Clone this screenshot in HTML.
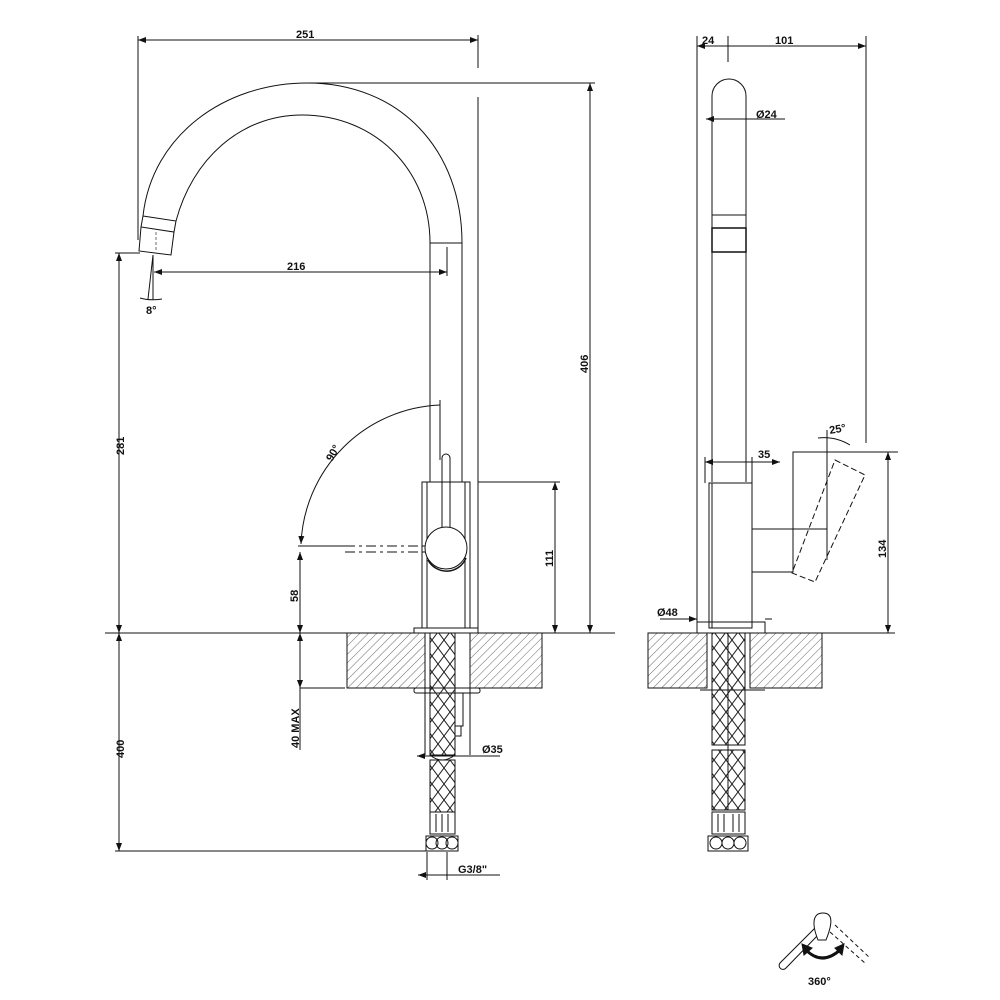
<!DOCTYPE html>
<html><head><meta charset="utf-8"><style>
html,body{margin:0;padding:0;background:#fff;}
svg{display:block}
text{font-family:"Liberation Sans",sans-serif;font-size:11px;font-weight:bold;fill:#111}
</style></head><body>
<svg width="1000" height="1000" viewBox="0 0 1000 1000" xmlns="http://www.w3.org/2000/svg">
<defs>
<pattern id="h" width="6" height="6" patternUnits="userSpaceOnUse" patternTransform="rotate(45)">
<line x1="0" y1="0" x2="0" y2="6" stroke="#555" stroke-width="0.9"/></pattern>
<pattern id="b" width="12" height="16" patternUnits="userSpaceOnUse">
<path d="M0 0 L12 16 M12 0 L0 16 M6 -8 L18 8 M-6 8 L6 24 M6 -8 L-6 8 M18 8 L6 24" stroke="#222" stroke-width="1" fill="none"/></pattern>
<marker id="a" markerWidth="8" markerHeight="6" refX="8" refY="3" orient="auto-start-reverse" markerUnits="userSpaceOnUse"><path d="M0 0 L8 3 L0 6 z" fill="#111"/></marker>
</defs>
<g stroke="#111" stroke-width="1" fill="none">
<line x1="138" y1="40" x2="478" y2="40" marker-start="url(#a)" marker-end="url(#a)"/>
<line x1="138" y1="36" x2="138" y2="240"/>
<line x1="478" y1="35" x2="478" y2="68"/>
<line x1="478" y1="97" x2="478" y2="633"/>
<path d="M143 216 C152 135 225 83 307 83 C400 83 462 150 462 243 L462 482"/>
<path d="M176 221 C192 160 240 115 302 115 C375 115 430 170 430 243 L430 482"/>
<line x1="430" y1="243" x2="462" y2="243"/>
<path d="M143 216 L176 221 L174 232 L141 227 Z"/>
<path d="M141 227 L139 251 L171 255 L174 232"/>
<line x1="156" y1="232" x2="156" y2="250" stroke-dasharray="3,2" stroke-width="0.6"/>
<line x1="153" y1="255" x2="148" y2="299"/>
<line x1="153" y1="255" x2="153" y2="300"/>
<path d="M140 298 Q150 301 162 299"/>
<line x1="305" y1="83" x2="595" y2="83"/>
<line x1="590" y1="83" x2="590" y2="633" marker-start="url(#a)" marker-end="url(#a)"/>
<line x1="115" y1="253" x2="140" y2="253"/>
<line x1="119" y1="253" x2="119" y2="633" marker-start="url(#a)" marker-end="url(#a)"/>
<line x1="447" y1="247" x2="447" y2="276"/>
<line x1="154" y1="272" x2="447" y2="272" marker-start="url(#a)" marker-end="url(#a)"/>
<rect x="422" y="482" width="48" height="146"/>
<line x1="427" y1="482" x2="427" y2="628"/>
<line x1="465" y1="482" x2="465" y2="628"/>
<rect x="414" y="628" width="64" height="5"/>
<path d="M442 540 L442 458 A4 4 0 0 1 450 458 L450 540"/>
<circle cx="446" cy="548" r="21" fill="#fff"/>
<path d="M428 560 A21 21 0 0 0 466 558" stroke-width="1.5"/>
<path d="M301 544 A145 145 0 0 1 440 405" marker-start="url(#a)"/>
<line x1="440" y1="400" x2="440" y2="460"/>
<line x1="298" y1="546" x2="345" y2="546"/>
<line x1="345" y1="546" x2="425" y2="546" stroke-dasharray="10,4,3,4"/>
<line x1="345" y1="552" x2="425" y2="552" stroke-dasharray="10,4,3,4"/>
<line x1="478" y1="482" x2="560" y2="482"/>
<line x1="555" y1="482" x2="555" y2="633" marker-start="url(#a)" marker-end="url(#a)"/>
<line x1="300" y1="552" x2="300" y2="633" marker-start="url(#a)" marker-end="url(#a)"/>
<line x1="105" y1="633" x2="615" y2="633"/>
<rect x="347" y="633" width="78" height="55" fill="url(#h)"/>
<rect x="470" y="633" width="72" height="55" fill="url(#h)"/>
<line x1="425" y1="688" x2="470" y2="688"/>
<rect x="414" y="688" width="66" height="5" rx="2"/>
<line x1="300" y1="633" x2="300" y2="750" />
<line x1="300" y1="688" x2="345" y2="688"/>
<line x1="300" y1="633" x2="300" y2="688" marker-start="url(#a)" marker-end="url(#a)"/>
<line x1="119" y1="633" x2="119" y2="851" marker-start="url(#a)" marker-end="url(#a)"/>
<line x1="115" y1="851" x2="430" y2="851"/>
<rect x="430" y="633" width="25" height="122" fill="url(#b)"/>
<path d="M430 755 Q442 765 455 755"/>
<rect x="430" y="760" width="25" height="52" fill="url(#b)"/>
<rect x="455" y="693" width="8" height="33"/>
<rect x="455" y="726" width="6" height="10"/>
<line x1="425" y1="633" x2="425" y2="755"/>
<line x1="470" y1="633" x2="470" y2="755"/>
<line x1="417" y1="756" x2="500" y2="756" marker-start="url(#a)"/>
<rect x="430" y="812" width="25" height="22"/>
<line x1="436" y1="814" x2="436" y2="832"/><line x1="442" y1="814" x2="442" y2="832"/><line x1="448" y1="814" x2="448" y2="832"/>
<rect x="426" y="836" width="32" height="15"/>
<circle cx="432" cy="843" r="6"/><circle cx="442" cy="843" r="6"/><circle cx="452" cy="843" r="6"/>
<line x1="427" y1="852" x2="427" y2="880"/>
<line x1="447" y1="852" x2="447" y2="880"/>
<line x1="418" y1="875" x2="500" y2="875" marker-start="url(#a)"/>

<line x1="697" y1="46" x2="866" y2="46" marker-start="url(#a)" marker-end="url(#a)"/>
<line x1="697" y1="36" x2="697" y2="633"/>
<line x1="728" y1="36" x2="728" y2="62"/>
<line x1="866" y1="36" x2="866" y2="443"/>
<path d="M712 482 L712 96 A17 17 0 0 1 746 96 L746 482"/>
<line x1="706" y1="119" x2="785" y2="119" marker-start="url(#a)"/>
<line x1="712" y1="215" x2="746" y2="215"/>
<rect x="712" y="228" width="34" height="24" stroke-width="1.5"/>
<line x1="705" y1="457" x2="705" y2="483"/><line x1="752" y1="457" x2="752" y2="483"/>
<line x1="705" y1="462" x2="780" y2="462" marker-start="url(#a)" marker-end="url(#a)"/>
<rect x="709" y="483" width="43" height="145"/>
<line x1="712" y1="483" x2="712" y2="628"/>
<rect x="697" y="622" width="68" height="11"/>
<line x1="660" y1="619" x2="697" y2="619" marker-end="url(#a)"/>
<line x1="765" y1="619" x2="772" y2="619"/>
<rect x="752" y="529" width="41" height="43"/>
<path d="M793 572 L793 452 L827 452 L827 560"/>
<line x1="793" y1="529" x2="827" y2="529"/>
<path d="M835 460 L865 475 L815 582 L792 573 Z" stroke-dasharray="6,3"/>
<path d="M818 438 Q835 436 850 445"/>
<line x1="827" y1="430" x2="827" y2="452"/>
<line x1="827" y1="452" x2="898" y2="452"/>
<line x1="888" y1="452" x2="888" y2="633" marker-start="url(#a)" marker-end="url(#a)"/>
<line x1="765" y1="633" x2="895" y2="633"/>
<rect x="648" y="633" width="59" height="55" fill="url(#h)"/>
<rect x="750" y="633" width="72" height="55" fill="url(#h)"/>
<path d="M700 690 L765 690"/>
<rect x="712" y="633" width="33" height="112" fill="url(#b)"/>
<rect x="712" y="750" width="33" height="60" fill="url(#b)"/>
<line x1="728" y1="633" x2="728" y2="810"/>
<rect x="712" y="812" width="33" height="22"/>
<line x1="718" y1="814" x2="718" y2="832"/><line x1="724" y1="814" x2="724" y2="832"/><line x1="733" y1="814" x2="733" y2="832"/><line x1="739" y1="814" x2="739" y2="832"/>
<rect x="708" y="836" width="40" height="15"/>
<circle cx="716" cy="843" r="6"/><circle cx="728" cy="843" r="6"/><circle cx="740" cy="843" r="6"/>
<path d="M780 963 L815 928 L820 933 L786 968 A3 3 0 0 1 780 963 Z"/>
<path d="M818 940 C812 925 812 913 823 913 C834 913 832 925 826 940 Z" fill="#fff"/>
<path d="M835 925 L870 958 M830 932 L866 964" stroke-dasharray="4,3"/>
<path d="M806 950 Q822 966 840 950" stroke-width="3"/>
<path d="M802 944 L812 948 L804 955 Z M844 944 L835 948 L842 955 Z" fill="#111"/>
</g>
<g>
<text x="296" y="38">251</text>
<text x="287" y="270">216</text>
<text x="146" y="314" font-size="10">8°</text>
<text transform="translate(588,373) rotate(-90)">406</text>
<text transform="translate(124,455) rotate(-90)">281</text>
<text transform="translate(332,462) rotate(-60)">90°</text>
<text transform="translate(553,567) rotate(-90)">111</text>
<text transform="translate(298,602) rotate(-90)">58</text>
<text transform="translate(299,748) rotate(-90)">40 MAX</text>
<text transform="translate(124,758) rotate(-90)">400</text>
<text x="482" y="753">Ø35</text>
<text x="458" y="873">G3/8"</text>
<text x="702" y="44">24</text>
<text x="775" y="44">101</text>
<text x="756" y="118">Ø24</text>
<text x="758" y="458">35</text>
<text transform="translate(830,434) rotate(-10)" font-size="10">25°</text>
<text transform="translate(886,558) rotate(-90)">134</text>
<text x="657" y="616">Ø48</text>
<text x="808" y="985" font-size="13">360°</text>
</g>
</svg>
</body></html>
